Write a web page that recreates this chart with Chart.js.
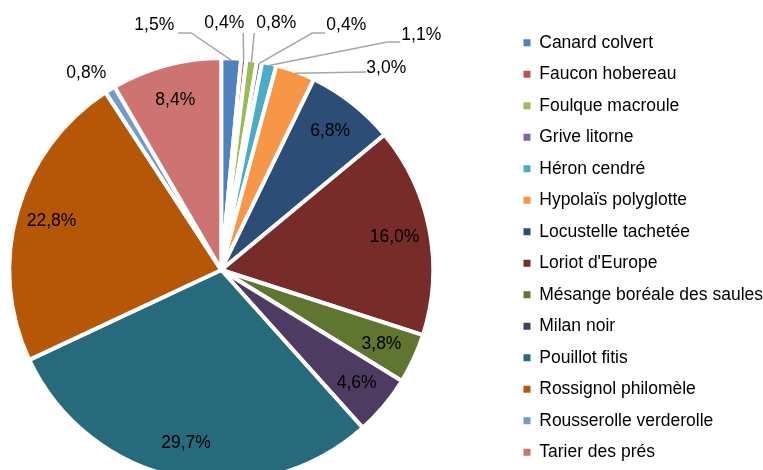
<!DOCTYPE html>
<html lang="fr">
<head>
  <meta charset="UTF-8">
  <title>Répartition des espèces</title>
  <script src="https://cdn.jsdelivr.net/npm/chart.js"></script>
  <style>
    html, body {
      margin: 0;
      padding: 0;
      background: #fff;
      overflow: hidden;
    }
    #wrap {
      position: relative;
      width: 763px;
      height: 470px;
      overflow: hidden;
    }
    #chart {
      position: absolute;
      left: -67px;
      top: 0;
    }
  </style>
</head>
<body>
  <div id="wrap"><canvas id="chart" width="840" height="520"></canvas></div>

  <script>
    const especes = [
      'Canard colvert', 'Faucon hobereau', 'Foulque macroule', 'Grive litorne',
      'Héron cendré', 'Hypolaïs polyglotte', 'Locustelle tachetée', "Loriot d'Europe",
      'Mésange boréale des saules', 'Milan noir', 'Pouillot fitis', 'Rossignol philomèle',
      'Rousserolle verderolle', 'Tarier des prés'
    ];
    const pourcentages = [1.5, 0.4, 0.8, 0.4, 1.1, 3.0, 6.8, 16.0, 3.8, 4.6, 29.7, 22.8, 0.8, 8.4];
    const couleurs = [
      '#4F81BD', '#C0504D', '#9BBB59', '#8064A2', '#4BACC6', '#F79646', '#2C4D75',
      '#772C2A', '#5F7530', '#4D3B62', '#276A7C', '#B65708', '#729ACA', '#CD7371'
    ];

    // petites parts : texte posé à l'extérieur (décalage depuis le centre)
    // et coudes du trait de rappel
    const horsCamembert = {
      0: { texte: [-67, -245], trait: [[-30, -237], [-43, -237]] },
      1: { texte: [3, -247], trait: [[22, -237]] },
      2: { texte: [55, -247], trait: [[33, -237]] },
      3: { texte: [125, -245], trait: [[91, -237], [104, -237]] },
      4: { texte: [200, -235], trait: [[166, -228], [179, -228]] },
      5: { texte: [165, -202], trait: [[145, -198]] },
      12: { texte: [-135, -197], trait: [] }
    };

    const police = "'Liberation Sans', Arial, sans-serif";

    function formatPct(v) {
      return v.toFixed(1).replace('.', ',') + '%';
    }

    const etiquettes = {
      id: 'etiquettes',
      afterDatasetsDraw(chart) {
        const ctx = chart.ctx;
        const meta = chart.getDatasetMeta(0);
        ctx.save();
        ctx.font = '17.5px ' + police;
        ctx.fillStyle = '#000';
        ctx.textAlign = 'center';
        ctx.textBaseline = 'middle';
        meta.data.forEach((arc, i) => {
          const p = arc.getProps(['x', 'y', 'startAngle', 'endAngle', 'outerRadius'], true);
          const mid = (p.startAngle + p.endAngle) / 2;
          const r = p.outerRadius - 2;
          const texte = formatPct(pourcentages[i]);
          const ext = horsCamembert[i];
          if (ext) {
            if (ext.trait.length) {
              ctx.beginPath();
              ctx.moveTo(p.x + Math.cos(mid) * r, p.y + Math.sin(mid) * r);
              ext.trait.forEach(pt => ctx.lineTo(p.x + pt[0], p.y + pt[1]));
              ctx.strokeStyle = '#A6A6A6';
              ctx.lineWidth = 1.5;
              ctx.stroke();
            }
            ctx.fillText(texte, p.x + ext.texte[0], p.y + ext.texte[1]);
          } else {
            ctx.fillText(texte, p.x + Math.cos(mid) * r * 0.84, p.y + Math.sin(mid) * r * 0.84);
          }
        });
        ctx.restore();
      }
    };

    const ctx = document.getElementById('chart').getContext('2d');
    new Chart(ctx, {
      type: 'pie',
      data: {
        labels: especes,
        datasets: [{
          data: pourcentages,
          backgroundColor: couleurs,
          borderColor: '#fff',
          borderWidth: 4,
          radius: 212
        }]
      },
      options: {
        responsive: false,
        devicePixelRatio: 1,
        animation: false,
        layout: {
          padding: { top: 20, left: 0, right: 0, bottom: 0 }
        },
        plugins: {
          tooltip: { enabled: false },
          legend: {
            position: 'right',
            align: 'start',
            labels: {
              boxWidth: 7,
              boxHeight: 7,
              padding: 14,
              color: '#000',
              font: { size: 17.5, family: police },
              // carrés pleins, sans le liseré blanc des parts
              generateLabels(chart) {
                const base = Chart.overrides.doughnut.plugins.legend.labels.generateLabels;
                return base(chart).map(item => ({ ...item, lineWidth: 0, strokeStyle: item.fillStyle }));
              }
            }
          }
        }
      },
      plugins: [etiquettes]
    });
  </script>
</body>
</html>
